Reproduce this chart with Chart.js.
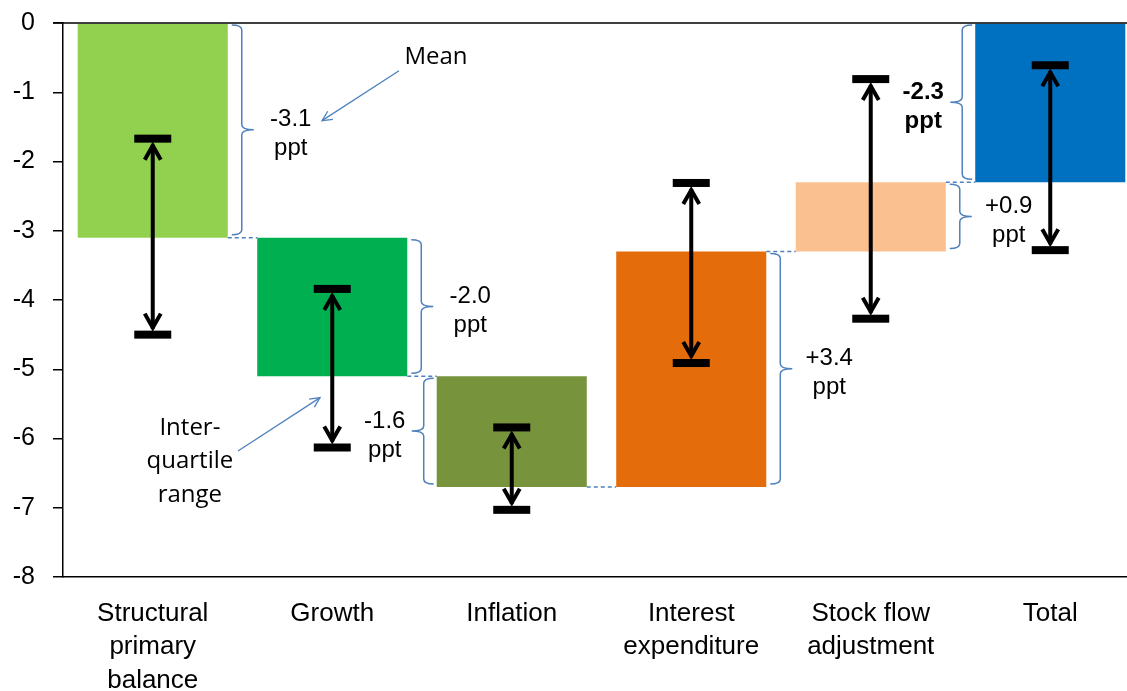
<!DOCTYPE html>
<html>
<head>
<meta charset="utf-8">
<script src="https://cdn.jsdelivr.net/npm/chart.js@4.4.1/dist/chart.umd.min.js"></script>
<style>
  html, body { margin: 0; padding: 0; overflow: hidden; background: #fff; }
  #wrap { position: relative; width: 1140px; height: 691px; }
</style>
</head>
<body>
<div id="wrap"><canvas id="c"></canvas></div>
<script>
// ---- data ----
const categories = [["Structural","primary","balance"],["Growth"],["Inflation"],["Interest","expenditure"],["Stock flow","adjustment"],["Total"]];
const barStart = [0, -3.1, -5.1, -6.7, -3.3, 0];
const barEnd   = [-3.1, -5.1, -6.7, -3.3, -2.3, -2.3];
const iqrHigh  = [-1.67, -3.84, -5.84, -2.31, -0.81, -0.61];
const iqrLow   = [-4.50, -6.13, -7.03, -4.91, -4.27, -3.28];
const changeLabels = ["-3.1", "-2.0", "-1.6", "+3.4", "+0.9", "-2.3"];
const unitLabel = "ppt";
const yMin = -8, yMax = 0, yStep = 1;

// ---- styles ----
const barColors = ["#92D050", "#00B050", "#77933C", "#E46C0A", "#FAC090", "#0070C0"];
const braceSide = ["right", "right", "left", "right", "right", "left"];
const boldLabel = [false, false, false, false, false, true];
const blue = "#4F81BD";

// annotation anchors in data coordinates (category index, value)
const meanText = { x: 1.578, y: -0.49, text: "Mean" };
const meanArrow = { x1: 1.372, y1: -0.69, x2: 0.943, y2: -1.41 };
const iqrText = { x: 0.207, y: -6.33, lines: ["Inter-", "quartile", "range"] };
const iqrArrow = { x1: 0.475, y1: -6.18, x2: 0.932, y2: -5.41 };

function arrowLine(ctx, x1, y1, x2, y2, head) {
  ctx.beginPath(); ctx.moveTo(x1, y1); ctx.lineTo(x2, y2); ctx.stroke();
  const ang = Math.atan2(y2 - y1, x2 - x1);
  ctx.beginPath();
  ctx.moveTo(x2 - head * Math.cos(ang - 0.45), y2 - head * Math.sin(ang - 0.45));
  ctx.lineTo(x2, y2);
  ctx.lineTo(x2 - head * Math.cos(ang + 0.45), y2 - head * Math.sin(ang + 0.45));
  ctx.stroke();
}

function brace(ctx, x0, y1, y2, dir) {
  const spine = x0 + dir * 10, tip = x0 + dir * 22, r = 5;
  const ym = (y1 + y2) / 2;
  ctx.beginPath();
  ctx.moveTo(x0, y1);
  ctx.quadraticCurveTo(spine, y1, spine, y1 + r);
  ctx.lineTo(spine, ym - r);
  ctx.quadraticCurveTo(spine, ym, tip, ym);
  ctx.quadraticCurveTo(spine, ym, spine, ym + r);
  ctx.lineTo(spine, y2 - r);
  ctx.quadraticCurveTo(spine, y2, x0, y2);
  ctx.stroke();
  return tip;
}

const overlay = {
  id: 'overlay',
  afterDatasetsDraw(chart) {
    const { ctx, chartArea: a, scales: { x, y } } = chart;
    const meta = chart.getDatasetMeta(0);
    ctx.save();

    // zero line at top
    ctx.strokeStyle = '#000'; ctx.lineWidth = 1.5;
    const y0 = y.getPixelForValue(0);
    ctx.beginPath(); ctx.moveTo(a.left - 10, y0); ctx.lineTo(a.right, y0); ctx.stroke();

    // connectors
    ctx.strokeStyle = blue; ctx.lineWidth = 1.5; ctx.setLineDash([4, 3]);
    for (let i = 0; i < meta.data.length - 1; i++) {
      const b1 = meta.data[i], b2 = meta.data[i + 1];
      const py = y.getPixelForValue(barEnd[i]);
      ctx.beginPath();
      ctx.moveTo(b1.x + b1.width / 2, py);
      ctx.lineTo(b2.x - b2.width / 2, py);
      ctx.stroke();
    }
    ctx.setLineDash([]);

    // braces + labels
    for (let i = 0; i < meta.data.length; i++) {
      const b = meta.data[i];
      const ya = Math.min(y.getPixelForValue(barStart[i]), y.getPixelForValue(barEnd[i])) + 2;
      const yb = Math.max(y.getPixelForValue(barStart[i]), y.getPixelForValue(barEnd[i])) - 3;
      const dir = braceSide[i] === 'right' ? 1 : -1;
      const x0 = dir > 0 ? b.x + b.width / 2 + 4 : b.x - b.width / 2 - 3;
      ctx.strokeStyle = blue; ctx.lineWidth = 1.5;
      const tip = brace(ctx, x0, ya, yb, dir);
      const mid = (ya + yb) / 2;
      const cx = tip + (dir > 0 ? 37 : -27);
      ctx.fillStyle = '#000';
      ctx.font = (boldLabel[i] ? 'bold ' : '') + '24px "Liberation Sans", Arial, sans-serif';
      ctx.textAlign = 'center'; ctx.textBaseline = 'middle';
      ctx.fillText(changeLabels[i], cx, mid - 10);
      ctx.fillText(unitLabel, cx, mid + 19);
    }

    // inter-quartile range arrows
    ctx.strokeStyle = '#000'; ctx.fillStyle = '#000';
    for (let i = 0; i < meta.data.length; i++) {
      const cx = meta.data[i].x;
      const yt = y.getPixelForValue(iqrHigh[i]);
      const yb = y.getPixelForValue(iqrLow[i]);
      ctx.fillRect(cx - 18.5, yt - 4, 37, 8);
      ctx.fillRect(cx - 18.5, yb - 4, 37, 8);
      ctx.lineWidth = 4; ctx.lineCap = 'butt'; ctx.lineJoin = 'miter';
      ctx.beginPath(); ctx.moveTo(cx, yt + 6); ctx.lineTo(cx, yb - 6); ctx.stroke();
      ctx.beginPath();
      ctx.moveTo(cx - 8, yt + 21); ctx.lineTo(cx, yt + 7); ctx.lineTo(cx + 8, yt + 21);
      ctx.stroke();
      ctx.beginPath();
      ctx.moveTo(cx - 8, yb - 21); ctx.lineTo(cx, yb - 7); ctx.lineTo(cx + 8, yb - 21);
      ctx.stroke();
    }

    // annotations
    ctx.strokeStyle = blue; ctx.lineWidth = 1.3;
    arrowLine(ctx, x.getPixelForValue(meanArrow.x1), y.getPixelForValue(meanArrow.y1),
                   x.getPixelForValue(meanArrow.x2), y.getPixelForValue(meanArrow.y2), 11);
    arrowLine(ctx, x.getPixelForValue(iqrArrow.x1), y.getPixelForValue(iqrArrow.y1),
                   x.getPixelForValue(iqrArrow.x2), y.getPixelForValue(iqrArrow.y2), 11);
    ctx.fillStyle = '#000';
    ctx.font = '24px "Open Sans", "Noto Sans", sans-serif';
    ctx.textAlign = 'center'; ctx.textBaseline = 'middle';
    ctx.fillText(meanText.text, x.getPixelForValue(meanText.x), y.getPixelForValue(meanText.y));
    const ix = x.getPixelForValue(iqrText.x), iy = y.getPixelForValue(iqrText.y);
    iqrText.lines.forEach((t, k) => ctx.fillText(t, ix, iy + (k - 1) * 33.5));

    ctx.restore();
  }
};

new Chart(document.getElementById('c'), {
  type: 'bar',
  data: {
    labels: categories,
    datasets: [{
      data: barStart.map((s, i) => [s, barEnd[i]]),
      backgroundColor: barColors,
      borderWidth: 0,
      borderSkipped: false,
      categoryPercentage: 1.0,
      barPercentage: 0.836
    }]
  },
  options: {
    responsive: true,
    maintainAspectRatio: false,
    animation: false,
    layout: { padding: { top: 23, left: 0, right: 0, bottom: 0 } },
    plugins: { legend: { display: false }, tooltip: { enabled: false } },
    scales: {
      x: {
        grid: { display: false, drawTicks: false },
        border: { display: true, color: '#000', width: 1.5 },
        ticks: {
          color: '#000', padding: 20, maxRotation: 0, autoSkip: false,
          font: { family: '"Liberation Sans", Arial, sans-serif', size: 26, lineHeight: 1.29 }
        },
        afterFit(s) { s.height = 114; s.paddingLeft = 0; s.paddingRight = 0; }
      },
      y: {
        min: yMin, max: yMax,
        grid: { drawOnChartArea: false, drawTicks: true, tickLength: 10, color: '#000', lineWidth: 1.5 },
        border: { display: true, color: '#000', width: 1.5 },
        ticks: {
          stepSize: yStep, color: '#000', padding: 18,
          font: { family: '"Liberation Sans", Arial, sans-serif', size: 25 }
        },
        afterFit(s) { s.width = 63; s.paddingTop = 0; s.paddingBottom = 0; }
      }
    }
  },
  plugins: [overlay]
});
</script>
</body>
</html>
